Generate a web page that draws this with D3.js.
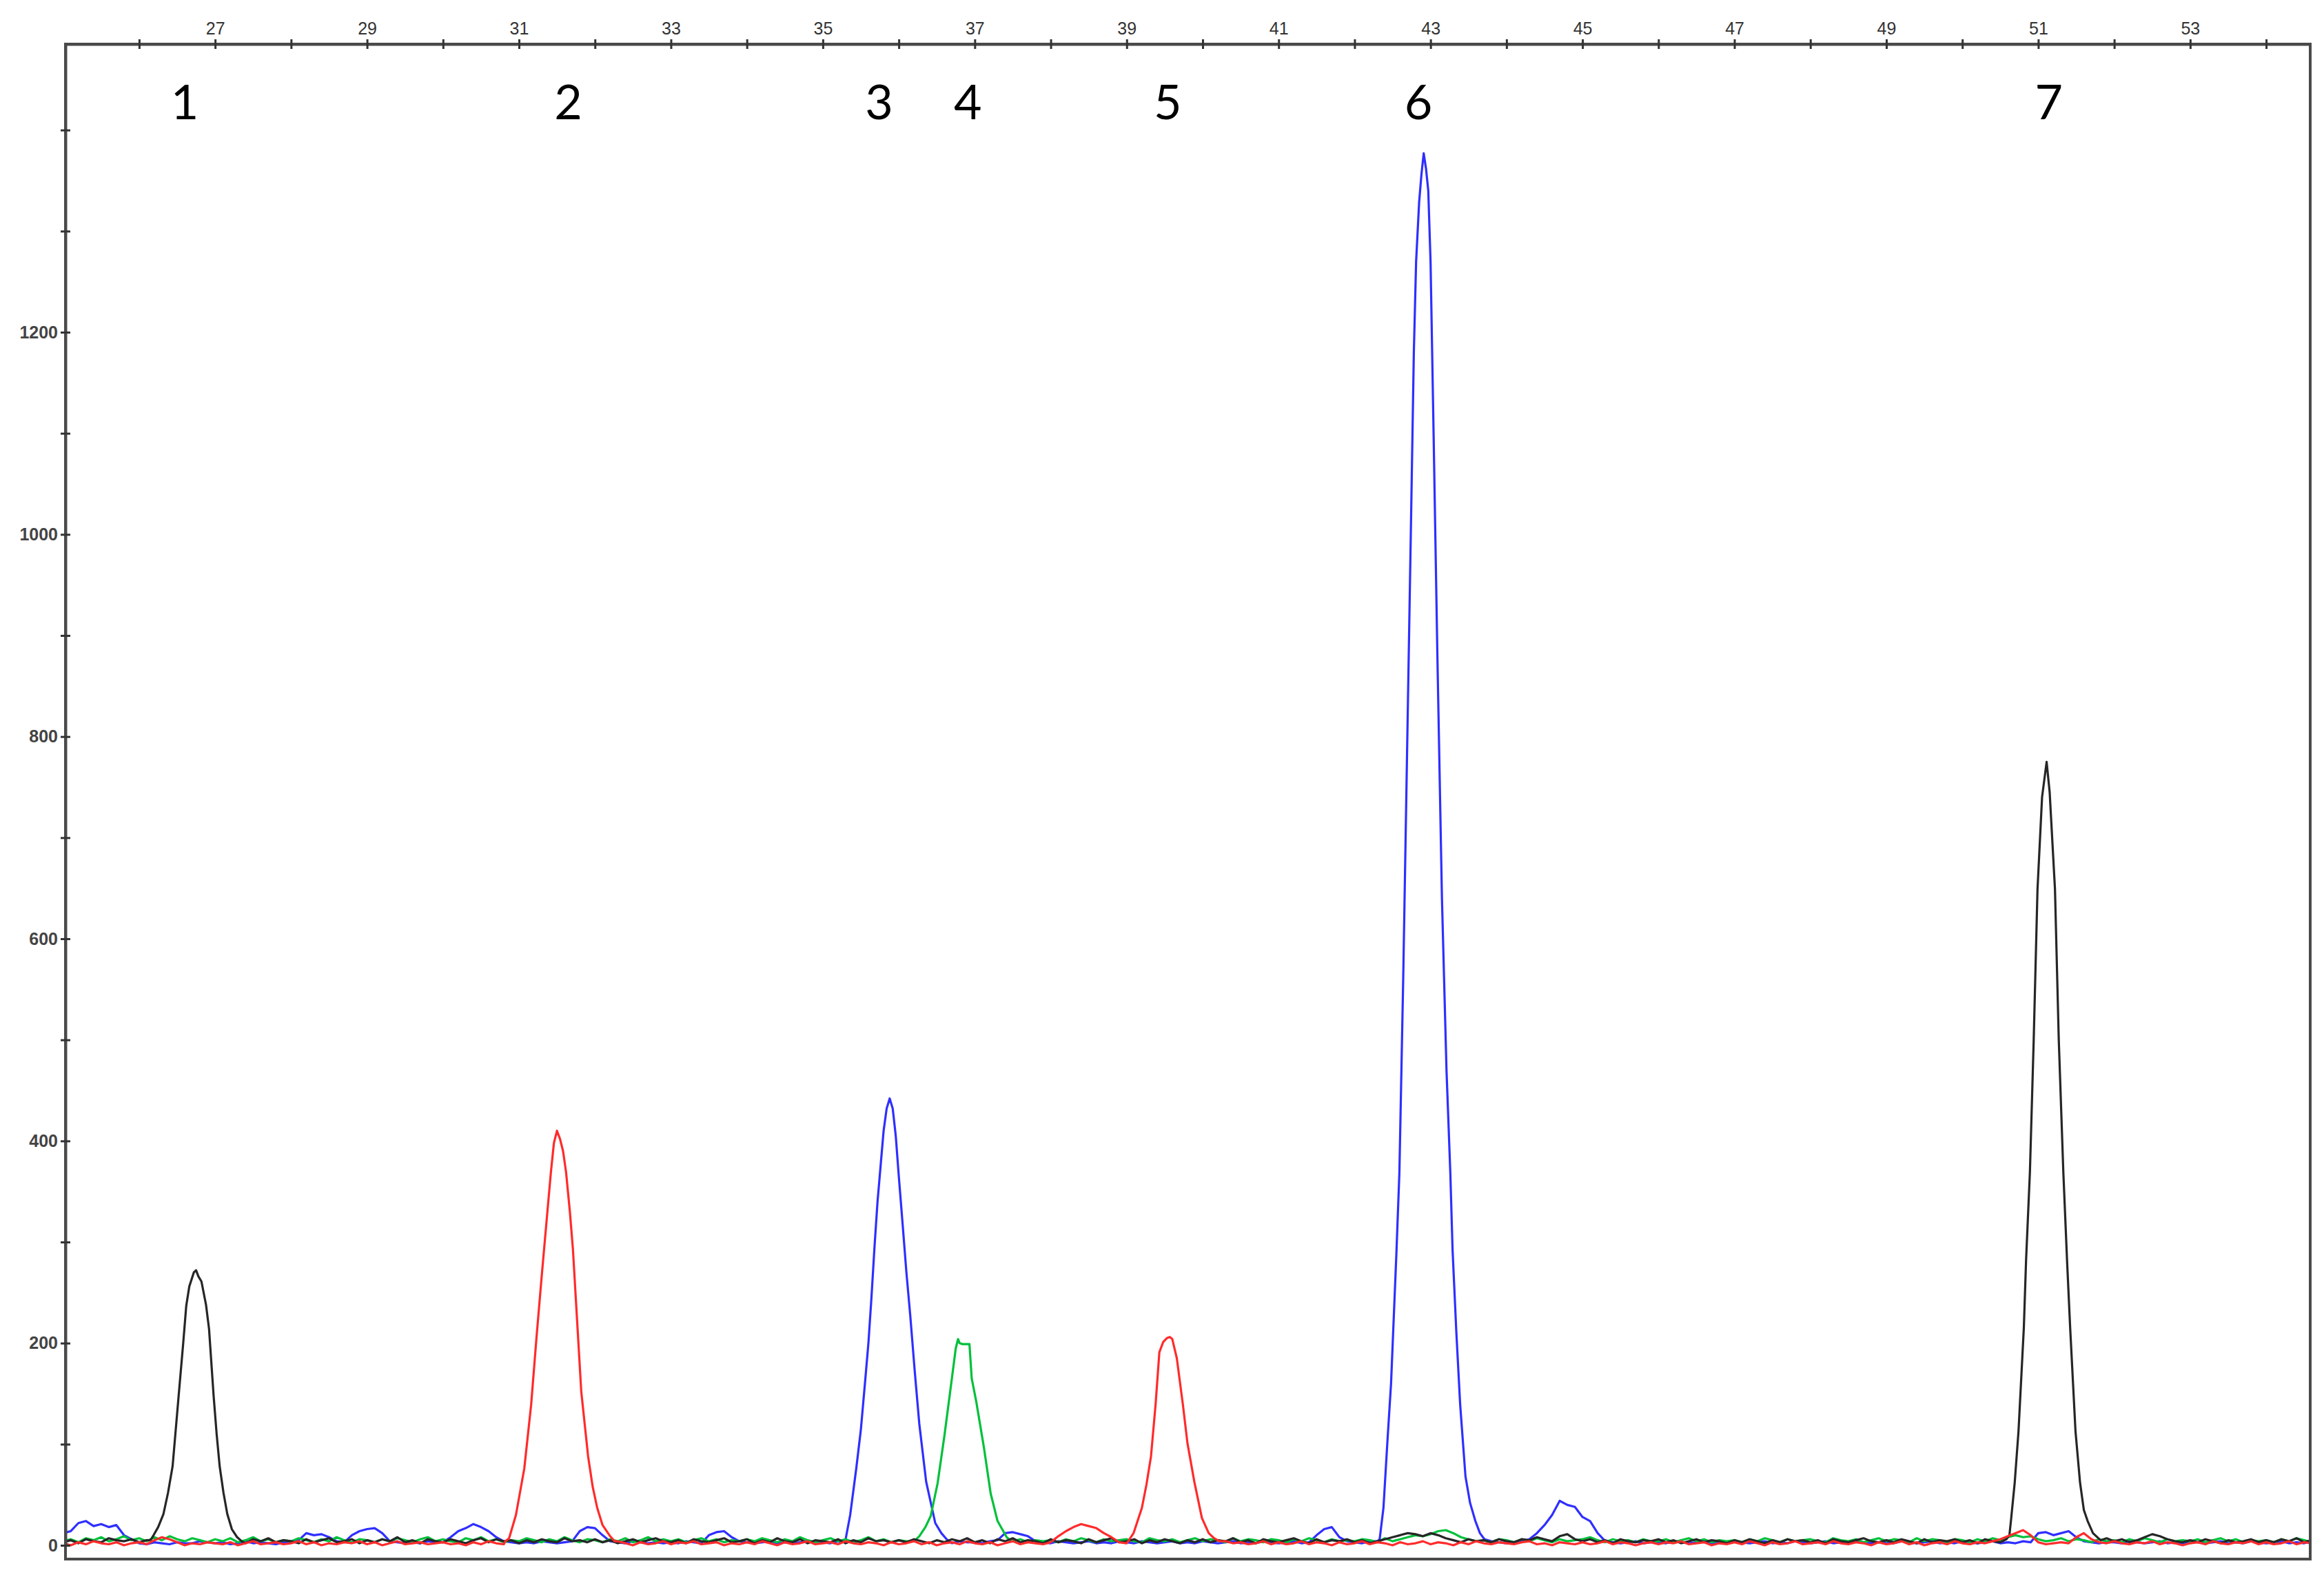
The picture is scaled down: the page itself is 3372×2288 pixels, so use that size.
<!DOCTYPE html>
<html>
<head>
<meta charset="utf-8">
<script src="https://cdn.jsdelivr.net/npm/d3@7"></script>
<style>
    body { margin: 0; background: #fff; }
</style>
</head>
<body>
<div id="chart"></div>
<script>
// top axis (size units) and left axis (signal)
var xTicks = d3.range( 26, 55 );
var yTicks = d3.range( 0, 1401, 100 );
var yLabelled = [ 0, 200, 400, 600, 800, 1000, 1200 ];

// peak numbers written above the trace, anchored at size units
var peakNames = [ '1', '2', '3', '4', '5', '6', '7' ];
var peakNameAt = [ 26.60, 31.65, 35.74, 36.91, 39.54, 42.84, 51.14 ];

// baseline samples, one every 0.1 unit starting at 25.0
var sampleStart = 25.0, sampleStep = 0.1;

var blackNoise = [
    3,5,2,6,4,3,7,5,4,6, 3,5,8,4,2,6,3,5,4,7, 4,6,3,5,2,6,4,7,3,5, 4,2,6,3,5,7,3,4,6,2,
    5,3,6,4,8,3,5,2,6,4, 3,6,4,2,5,7,3,6,4,5, 2,5,3,6,4,3,7,4,5,3, 6,3,5,2,4,6,3,5,7,4,
    3,5,2,6,4,3,5,7,3,4, 6,2,5,3,7,4,3,6,2,5, 4,3,6,2,5,3,7,4,5,3, 5,3,6,4,2,5,3,6,4,7,
    3,5,2,6,4,7,3,5,4,2, 6,3,5,4,2,6,3,5,7,3, 4,6,2,5,3,6,4,2,5,3, 6,3,5,4,7,3,5,2,6,4,
    3,5,7,4,2,6,3,5,4,6, 3,5,2,4,6,8,10,12,11,9, 12,10,7,5,3,6,4,5,3,6, 4,3,6,5,8,6,4,9,11,6,
    4,6,3,5,2,6,4,3,5,4, 6,3,5,2,4,6,3,5,4,2, 5,3,6,4,2,5,3,6,4,5, 3,5,2,6,4,3,5,7,4,3,
    5,3,6,4,2,6,3,5,4,6, 3,5,2,6,4,3,7,5,4,6, 5,3,6,4,2,6,3,5,4,7, 4,6,3,5,8,11,9,6,4,3,
    5,3,6,4,2,5,3,4,6,3, 5,3,6,4,7,3,5,4,6,3
];
var redNoise = [
    2,0,3,1,4,2,1,3,0,2, 3,1,5,8,6,3,0,2,1,3, 2,1,3,0,2,4,1,2,3,1, 2,4,1,3,0,2,1,3,2,4,
    1,3,0,2,4,1,2,3,1,2, 3,1,2,0,3,1,4,2,1,3, 2,1,3,0,2,4,1,3,2,1, 2,1,3,4,2,0,3,1,2,4,
    1,3,2,4,1,2,3,0,2,1, 3,1,4,2,0,3,1,2,4,1, 2,3,1,4,2,1,3,2,0,3, 1,2,4,1,3,0,2,3,1,4,
    2,1,3,0,2,4,1,3,2,1, 3,9,14,18,21,19,17,12,8,3, 2,1,3,2,4,1,3,2,1,3, 2,3,1,4,2,3,1,2,4,1,
    3,1,2,4,1,3,2,0,3,1, 2,4,1,3,2,0,3,1,2,4, 1,3,2,0,3,1,4,2,1,3, 2,1,3,4,1,2,0,3,2,1,
    3,1,2,4,1,3,2,0,2,3, 1,3,2,4,1,2,3,0,2,1, 3,1,4,2,0,3,1,2,4,1, 2,3,1,4,2,1,3,2,0,3,
    1,2,4,1,3,0,2,3,1,4, 2,1,3,2,4,6,9,12,15,10, 3,1,2,3,2,8,12,6,3,2, 4,2,1,3,2,4,1,3,2,0,
    2,3,1,4,2,1,3,2,4,1, 3,1,2,4,1,3,2,0,2,3
];
var greenNoise = [
    4,6,3,7,5,8,4,6,9,5, 7,4,8,5,9,6,4,7,5,3, 6,4,7,3,5,8,4,6,3,5, 4,7,5,3,6,4,8,5,3,6,
    5,3,6,4,7,5,3,6,8,4, 6,4,3,7,5,8,4,6,3,5, 4,7,5,3,6,4,8,5,3,6, 5,3,6,4,7,3,5,8,4,6,
    4,6,3,5,7,4,6,3,5,4, 6,4,7,5,3,6,4,8,5,3, 5,7,4,6,3,5,8,4,6,3, 5,4,6,3,5,4,6,3,5,4,
    4,6,3,5,7,4,6,3,5,4, 5,3,6,4,7,5,3,6,4,5, 6,4,3,7,5,4,6,3,5,7, 4,6,5,3,7,4,6,5,3,6,
    5,3,6,4,7,5,3,6,4,5, 4,6,5,3,7,4,6,8,10,9, 11,14,15,12,8,6,4,5,3,6, 5,3,6,4,7,5,3,6,4,5,
    6,8,5,3,6,4,5,3,6,4, 4,6,3,5,7,4,6,3,5,4, 5,3,6,4,7,5,3,6,4,5, 6,4,3,7,5,4,6,3,5,7,
    4,6,5,3,7,4,6,5,3,6, 5,3,6,4,7,5,8,10,8,9, 6,4,5,7,4,6,5,3,6,4, 5,3,6,4,7,5,3,6,4,5,
    4,6,3,5,7,4,6,3,5,4, 5,3,6,4,7,5,3,6,4,5
];
var blueNoise = [
    12,14,22,24,19,21,18,20,10,6, 2,1,3,2,1,3,2,2,4,3, 2,3,1,2,4,2,3,2,1,3, 3,5,12,10,11,8,4,3,10,14,
    16,17,12,4,3,2,3,2,4,3, 3,8,14,17,21,18,14,8,4,3, 2,3,2,4,3,2,3,4,14,18, 17,10,4,3,2,4,3,2,3,2,
    3,2,4,3,2,10,13,14,8,4, 3,2,3,4,2,3,2,3,4,2, 3,2,4,3,2,3,4,2,3,2, 4,3,2,3,4,2,3,2,4,3,
    3,2,4,5,12,13,11,9,4,3, 2,4,3,2,3,4,2,3,2,4, 3,2,4,3,2,3,4,2,3,2, 4,3,2,3,4,2,3,2,4,3,
    2,3,4,2,3,10,16,18,8,4, 3,2,4,3,2,3,4,2,3,2, 4,3,2,3,4,2,3,2,4,3, 2,3,4,6,12,20,30,44,40,38,
    28,24,12,4,3,2,3,4,2,3, 3,2,4,3,2,3,4,2,3,2, 4,3,2,3,4,2,3,2,4,3, 2,3,4,2,3,2,4,3,2,3,
    3,2,4,3,2,3,4,2,3,2, 4,3,2,3,4,2,3,2,4,3, 12,13,10,12,14,8,4,3,2,3, 3,2,4,3,2,3,4,2,3,2,
    4,3,2,3,4,2,3,2,4,3, 2,3,4,2,3,2,4,3,2,3
];

// peaks as [size, signal]
var peak1Black = [[26.15,5],[26.19,10],[26.25,18],[26.32,31],[26.38,52],[26.44,78],[26.52,148],[26.58,200],
    [26.62,237],[26.66,256],[26.72,270],[26.75,272],[26.78,266],[26.82,261],[26.88,238],[26.92,214],[26.98,148],
    [27.02,110],[27.06,78],[27.11,52],[27.16,31],[27.22,16],[27.29,8],[27.35,4]];
var peak7Black = [[50.58,6],[50.62,10],[50.64,24],[50.69,62],[50.74,113],[50.81,215],[50.84,283],[50.89,369],
    [50.94,500],[50.99,649],[51.05,740],[51.11,775],[51.15,745],[51.22,649],[51.27,500],[51.33,369],[51.38,280],
    [51.42,215],[51.49,113],[51.55,62],[51.60,35],[51.65,24],[51.72,12],[51.82,5]];
var peak2Red = [[30.82,4],[30.87,7],[30.96,30],[31.02,55],[31.07,76],[31.16,139],[31.23,205],[31.30,267],
    [31.36,318],[31.42,369],[31.46,398],[31.50,410],[31.54,402],[31.58,390],[31.62,369],[31.67,330],[31.71,293],
    [31.77,216],[31.82,152],[31.91,88],[31.97,58],[32.03,37],[32.10,20],[32.20,9],[32.26,4]];
var peak5Red = [[39.02,4],[39.09,12],[39.20,37],[39.26,60],[39.32,88],[39.38,139],[39.43,191],[39.48,201],
    [39.53,205],[39.57,206],[39.60,204],[39.66,185],[39.74,139],[39.80,101],[39.89,63],[39.99,27],[40.08,12],
    [40.15,7],[40.22,4]];
var peak4Green = [[36.20,4],[36.27,9],[36.35,18],[36.42,29],[36.51,61],[36.60,108],[36.69,160],[36.75,195],
    [36.78,204],[36.80,200],[36.84,199],[36.93,199],[36.96,165],[37.02,142],[37.12,97],[37.21,51],[37.30,24],
    [37.42,8],[37.48,4]];
var peak3Blue = [[35.25,3],[35.30,6],[35.36,30],[35.44,76],[35.50,114],[35.56,165],[35.60,200],[35.64,245],
    [35.68,295],[35.72,340],[35.76,375],[35.80,410],[35.84,432],[35.88,442],[35.92,432],[35.96,405],[36.00,365],
    [36.05,318],[36.10,270],[36.15,228],[36.21,172],[36.27,120],[36.36,63],[36.48,22],[36.56,12],[36.63,6]];
var peak6Blue = [[42.30,4],[42.33,6],[42.38,37],[42.43,100],[42.48,160],[42.55,288],[42.59,369],[42.64,560],
    [42.69,780],[42.74,1000],[42.78,1180],[42.81,1270],[42.85,1329],[42.88,1356],[42.91,1377],[42.94,1362],
    [42.97,1340],[43.00,1270],[43.04,1100],[43.09,880],[43.15,640],[43.21,470],[43.26,369],
    [43.29,292],[43.34,210],[43.39,139],[43.46,68],[43.52,42],[43.59,24],[43.65,12],[43.71,6]];

var channels = [
    { name: 'blue',  color: '#2f2fff', noise: blueNoise,  peaks: [ peak3Blue, peak6Blue ] },
    { name: 'green', color: '#00c03a', noise: greenNoise, peaks: [ peak4Green ] },
    { name: 'black', color: '#262626', noise: blackNoise, peaks: [ peak1Black, peak7Black ] },
    { name: 'red',   color: '#ff2b2b', noise: redNoise,   peaks: [ peak2Red, peak5Red ] }
];

var width = 3372, height = 2288;
var plotLeft = 95, plotRight = 3352, plotTop = 64, plotBottom = 2262;

var svg = d3.select( '#chart' ).append( 'svg' )
    .attr( 'width', width ).attr( 'height', height );

svg.append( 'rect' ).attr( 'width', width ).attr( 'height', height ).attr( 'fill', '#fff' );

var x = d3.scaleLinear().domain( [ 25.03, 54.58 ] ).range( [ plotLeft, plotRight ] );
var y = d3.scaleLinear().domain( [ 0, 1485 ] ).range( [ 2242, plotTop ] );

svg.append( 'clipPath' ).attr( 'id', 'plotClip' )
    .append( 'rect' )
    .attr( 'x', plotLeft ).attr( 'y', plotTop )
    .attr( 'width', plotRight - plotLeft ).attr( 'height', plotBottom - plotTop );

/*
 * baseline samples that fall under a peak are dropped,
 * the peak outline takes their place
 */
function buildTrace( noise, peaks ) {
    var pts = [];
    noise.forEach( function( v, i ) {
        var sx = +( sampleStart + i * sampleStep ).toFixed( 2 );
        var under = peaks.some( function( p ) {
            return sx >= p[0][0] && sx <= p[p.length - 1][0];
        });
        if( !under ) pts.push( [ sx, v ] );
    });
    peaks.forEach( function( p ) { pts = pts.concat( p ); } );
    pts.sort( function( a, b ) { return a[0] - b[0]; } );
    return pts;
}

var line = d3.line()
    .x( function( d ) { return x( d[0] ); } )
    .y( function( d ) { return y( d[1] ); } );

var traces = svg.append( 'g' ).attr( 'clip-path', 'url(#plotClip)' );

traces.selectAll( '.trace' )
    .data( channels )
    .enter().append( 'path' )
    .attr( 'class', 'trace' )
    .attr( 'fill', 'none' )
    .attr( 'stroke', function( d ) { return d.color; } )
    .attr( 'stroke-width', 3.2 )
    .attr( 'stroke-linejoin', 'round' )
    .attr( 'd', function( d ) { return line( buildTrace( d.noise, d.peaks ) ); } );

// frame
svg.append( 'rect' )
    .attr( 'x', plotLeft ).attr( 'y', plotTop )
    .attr( 'width', plotRight - plotLeft ).attr( 'height', plotBottom - plotTop )
    .attr( 'fill', 'none' )
    .attr( 'stroke', '#4a4a4a' )
    .attr( 'stroke-width', 4 );

// top axis, ticks cross the line
var xAxis = d3.axisTop( x )
    .tickValues( xTicks )
    .tickSize( 7 )
    .tickSizeOuter( 0 )
    .tickPadding( 7 )
    .tickFormat( function( d ) { return d % 2 ? d : ''; } );

var gx = svg.append( 'g' )
    .attr( 'transform', 'translate(0,' + plotTop + ')' )
    .call( xAxis );
gx.select( '.domain' ).attr( 'stroke', '#4a4a4a' ).attr( 'stroke-width', 4 );
gx.selectAll( '.tick line' ).attr( 'y1', 7 ).attr( 'stroke', '#333' ).attr( 'stroke-width', 3 );
gx.selectAll( '.tick text' )
    .style( 'font-family', '"Liberation Sans Narrow", "Arial Narrow", sans-serif' )
    .style( 'font-size', '25px' )
    .attr( 'fill', '#333' );

// left axis
var yAxis = d3.axisLeft( y )
    .tickValues( yTicks )
    .tickSize( 7 )
    .tickSizeOuter( 0 )
    .tickPadding( 4 )
    .tickFormat( function( d ) { return yLabelled.indexOf( d ) >= 0 ? d : ''; } );

var gy = svg.append( 'g' )
    .attr( 'transform', 'translate(' + plotLeft + ',0)' )
    .call( yAxis );
gy.select( '.domain' ).attr( 'stroke', '#4a4a4a' ).attr( 'stroke-width', 4 );
gy.selectAll( '.tick line' ).attr( 'x1', 7 ).attr( 'stroke', '#333' ).attr( 'stroke-width', 3 );
gy.selectAll( '.tick text' )
    .style( 'font-family', '"Liberation Sans", Arial, sans-serif' )
    .style( 'font-size', '25px' )
    .style( 'font-weight', 'bold' )
    .attr( 'fill', '#444' );

// peak numbers
svg.selectAll( '.peakName' )
    .data( peakNames )
    .enter().append( 'text' )
    .attr( 'class', 'peakName' )
    .attr( 'x', function( d, i ) { return x( peakNameAt[i] ); } )
    .attr( 'y', 173 )
    .attr( 'text-anchor', 'middle' )
    .style( 'font-family', 'Lato, "Open Sans", sans-serif' )
    .style( 'font-size', '70px' )
    .attr( 'fill', '#000' )
    .text( function( d ) { return d; } );
</script>
</body>
</html>
